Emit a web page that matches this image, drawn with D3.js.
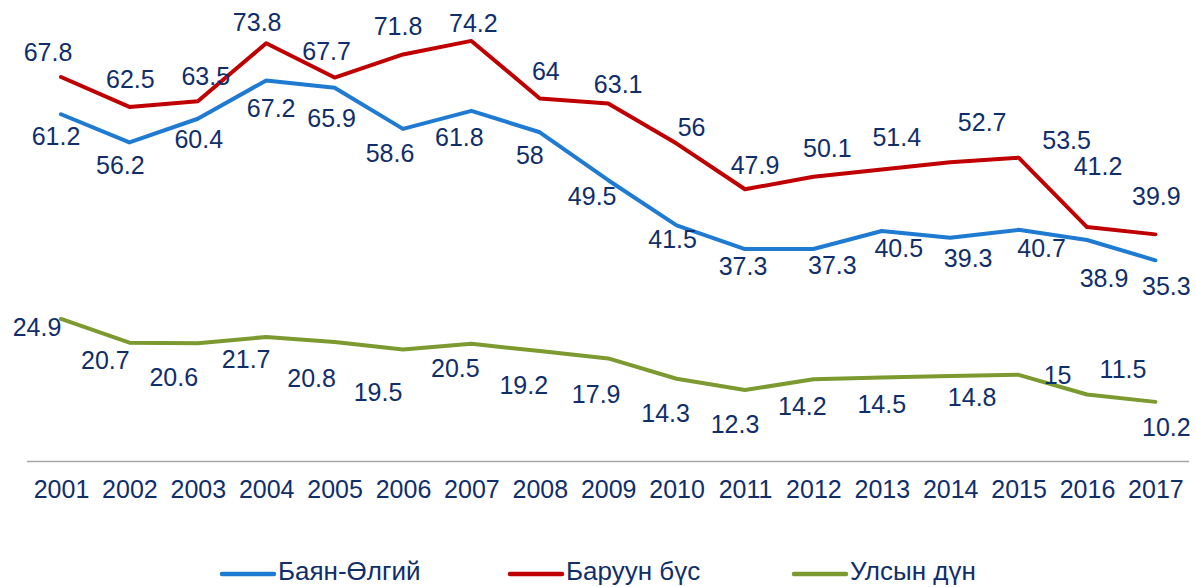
<!DOCTYPE html>
<html>
<head>
<meta charset="utf-8">
<script src="https://cdn.jsdelivr.net/npm/d3@7"></script>
<style>
  html, body { margin: 0; padding: 0; background: #ffffff; }
  svg { display: block; }
</style>
</head>
<body>
<svg id="chart" width="1196" height="587"></svg>
<script>
// ---- data ----
const years = ["2001","2002","2003","2004","2005","2006","2007","2008","2009","2010","2011","2012","2013","2014","2015","2016","2017"];
const seriesNames = ["Баян-Өлгий", "Баруун бүс", "Улсын дүн"];
const bayanOlgii = [61.2,56.2,60.4,67.2,65.9,58.6,61.8,58,49.5,41.5,37.3,37.3,40.5,39.3,40.7,38.9,35.3];
const baruunBus  = [67.8,62.5,63.5,73.8,67.7,71.8,74.2,64,63.1,56,47.9,50.1,51.4,52.7,53.5,41.2,39.9];
const ulsynDun   = [24.9,20.7,20.6,21.7,20.8,19.5,20.5,19.2,17.9,14.3,12.3,14.2,14.5,14.8,15,11.5,10.2];

// ---- layout (label offsets from each point, in px) ----
const blueLabelOffsets = [[-5,22],[-9,23],[1,20],[5,28],[-3,30],[-13,24],[-12,26],[-10,23],[-16,16],[-4,14],[-2,17],[19,16],[17,17],[18,20],[23,18],[17,38],[11,26]];
const redLabelOffsets  = [[-13,-25],[1,-28],[8,-25],[-9,-21],[-8,-27],[-5,-28],[2,-18],[6,-27],[10,-20],[15,-17],[10,-24],[14,-29],[15,-33],[32,-40],[48,-18],[11,-61],[1,-38]];
const greenLabelOffsets= [[-24,8],[-24,17],[-24,34],[-20,22],[-23,36],[-25,43],[-16,24],[-16,34],[-12,36],[-11,34],[-10,34],[-11,27],[0,26],[22,21],[39,0],[36,-26],[11,25]];

const colors = ["#1f7ad2", "#c00000", "#7c9a30"];
const textColor = "#102e6a";
const labelFont = "'Liberation Sans', Arial, sans-serif";

const svg = d3.select("#chart");

const x = d3.scalePoint().domain(years).range([61, 1155.4]);
const y = d3.scaleLinear().domain([0, 80]).range([459.4, 8.2]);

// axis
const xAxis = d3.axisBottom(x).tickSize(0).tickPadding(0);
const gx = svg.append("g").attr("transform", "translate(0,461)").call(xAxis);
gx.select(".domain").remove();
gx.selectAll("text")
  .attr("y", 28)
  .attr("dy", "0.36em")
  .attr("fill", textColor)
  .style("font-family", labelFont)
  .style("font-size", "25px");
svg.append("line")
  .attr("x1", 27).attr("x2", 1189)
  .attr("y1", 461.5).attr("y2", 461.5)
  .attr("stroke", "#a6a6a6").attr("stroke-width", 1.5);

const series = [
  { name: seriesNames[0], values: bayanOlgii, offsets: blueLabelOffsets, color: colors[0] },
  { name: seriesNames[1], values: baruunBus, offsets: redLabelOffsets, color: colors[1] },
  { name: seriesNames[2], values: ulsynDun, offsets: greenLabelOffsets, color: colors[2] }
];

const line = d3.line()
  .x((d, i) => x(years[i]))
  .y(d => y(d));

series.forEach(s => {
  svg.append("path")
    .datum(s.values)
    .attr("d", line)
    .attr("fill", "none")
    .attr("stroke", s.color)
    .attr("stroke-width", 4)
    .attr("stroke-linejoin", "round")
    .attr("stroke-linecap", "round");
});

series.forEach(s => {
  svg.append("g").selectAll("text")
    .data(s.values)
    .join("text")
    .attr("x", (d, i) => x(years[i]) + s.offsets[i][0])
    .attr("y", (d, i) => y(d) + s.offsets[i][1])
    .attr("dy", "0.36em")
    .attr("text-anchor", "middle")
    .attr("fill", textColor)
    .style("font-family", labelFont)
    .style("font-size", "25px")
    .text(d => d);
});

// legend
const legendX = [220, 508, 792];
const legend = svg.append("g");
series.forEach((s, i) => {
  const g = legend.append("g").attr("transform", `translate(${legendX[i]},574)`);
  g.append("line")
    .attr("x1", 2).attr("x2", 54)
    .attr("y1", 0).attr("y2", 0)
    .attr("stroke", s.color)
    .attr("stroke-width", 4.5)
    .attr("stroke-linecap", "round");
  g.append("text")
    .attr("x", 58)
    .attr("y", -3)
    .attr("dy", "0.36em")
    .attr("fill", textColor)
    .style("font-family", "'Liberation Sans Narrow', 'Arial Narrow', sans-serif")
    .style("font-size", "26px")
    .text(s.name);
});
</script>
</body>
</html>
